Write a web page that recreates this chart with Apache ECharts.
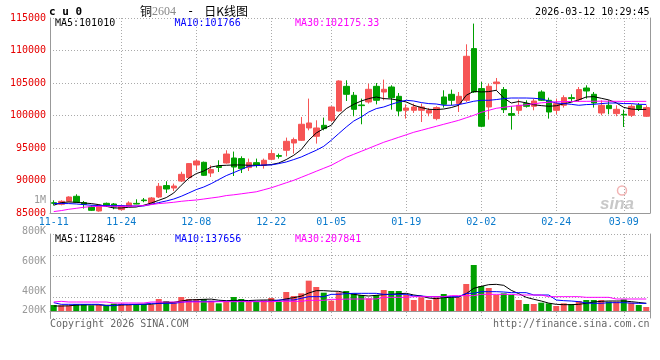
<!DOCTYPE html>
<html><head><meta charset="utf-8">
<script src="https://cdn.jsdelivr.net/npm/echarts@6/dist/echarts.min.js"></script>
<style>html,body{margin:0;padding:0;background:#fff;}#c{width:660px;height:360px;}</style>
</head><body><div id="c"></div>
<script>
// ---------- data ----------
const dates = ['2025-11-11','2025-11-12','2025-11-13','2025-11-14','2025-11-17','2025-11-18','2025-11-19','2025-11-20','2025-11-21','2025-11-24',
'2025-11-25','2025-11-26','2025-11-27','2025-11-28','2025-12-01','2025-12-02','2025-12-03','2025-12-04','2025-12-05','2025-12-08',
'2025-12-09','2025-12-10','2025-12-11','2025-12-12','2025-12-15','2025-12-16','2025-12-17','2025-12-18','2025-12-19','2025-12-22',
'2025-12-23','2025-12-24','2025-12-25','2025-12-26','2025-12-29','2025-12-30','2025-12-31','2026-01-05','2026-01-06','2026-01-07',
'2026-01-08','2026-01-09','2026-01-12','2026-01-13','2026-01-14','2026-01-15','2026-01-16','2026-01-19','2026-01-20','2026-01-21',
'2026-01-22','2026-01-23','2026-01-26','2026-01-27','2026-01-28','2026-01-29','2026-01-30','2026-02-02','2026-02-03','2026-02-04',
'2026-02-05','2026-02-06','2026-02-09','2026-02-10','2026-02-11','2026-02-12','2026-02-13','2026-02-24','2026-02-25','2026-02-26',
'2026-02-27','2026-03-02','2026-03-03','2026-03-04','2026-03-05','2026-03-06','2026-03-09','2026-03-10','2026-03-11','2026-03-12'];
const tickLabels = ['11-11','11-24','12-08','12-22','01-05','01-19','02-02','02-24','03-09'];

const openP = [86580,86340,86800,87570,86600,85920,85310,86490,86385,85520,
86030,86480,87000,86540,87460,89215,88850,89920,90440,92385,
92800,91150,92200,92690,93460,93370,91985,92750,92340,93260,
93830,94650,95770,96185,98080,96800,98490,99260,100690,104490,
103110,101620,102080,104490,103615,104385,102950,100800,100800,100800,
100385,99520,102850,103260,101830,102340,110290,104140,101310,104900,
103985,100290,100800,101830,101415,103615,102340,100800,101570,102750,
102450,104230,103260,100385,101570,100290,100180,100030,101570,99880];
const closeP = [86500,86800,87460,86650,86340,85415,86180,86080,85920,86080,
86540,86380,86900,87310,89110,88690,89150,90950,92600,93000,
90800,91675,92000,94070,92075,91830,92750,92340,93110,94140,
93720,96030,96290,98650,98850,98080,97985,101310,105310,103260,
100950,101520,104030,102340,104030,102750,100690,101150,101310,101310,
100800,101215,101720,102340,102950,109110,103615,98340,104490,105150,
100900,100030,101570,101415,102230,102340,100540,101830,102750,102600,
103985,103770,101920,101570,101060,100950,100080,101415,101060,101215];
const lowP = [86180,86180,86650,86540,85680,85310,85200,85920,85570,85400,
85920,86340,86650,86390,87310,88080,88385,89770,90290,91570,
90690,90540,91310,92600,90690,91150,91460,91985,91830,93110,
93370,93720,94140,96080,97720,95680,97720,99000,100600,102230,
99880,98650,101830,101720,102340,100900,99880,99520,100400,99000,
99880,99260,101215,101570,100540,102080,103460,98200,99370,103880,
100385,97830,100185,101215,100800,102230,99520,100185,101215,102080,
102080,102600,101215,100030,100185,99880,98230,99770,100690,99770];
const highP = [86950,86950,87570,87880,86850,86180,86300,86600,86540,86180,
86800,87110,87310,87460,89615,89880,89520,91350,92690,93215,
92910,92340,93110,94650,94450,93720,93370,93370,93370,94750,
94140,96600,96600,99770,102600,99260,99680,101420,105415,105415,
103615,102600,104900,105000,105520,104650,103460,101720,101830,101830,
101150,101415,103880,103985,103615,110950,114140,105150,104900,105770,
104385,101415,102450,102340,102600,103880,102750,102600,103110,103260,
104385,104650,103615,102340,102340,101570,100900,101720,101920,101570];

const ma5 = [86190,86600,86690,86650,86540,86450,86290,86030,85770,85770,
85880,85920,86190,86540,86950,87370,88080,89260,90340,91060,
91460,92080,92290,92340,92390,92390,92340,92340,92340,92450,
92690,93220,93880,94750,96190,97310,97990,98490,100030,101060,
101720,102230,102600,102850,102600,102540,102340,102080,101570,101220,
100950,100910,101000,101220,101570,103110,103720,103620,103680,103880,
102700,101920,102150,101950,101650,101520,101420,101500,101800,102050,
102400,102850,102900,102650,102400,101950,101250,101000,100910,100950];
const ma10 = [86450,86450,86450,86390,86290,86190,86140,86140,86140,86140,
86080,86080,86080,86340,86600,86850,87150,87570,88080,88600,
89000,89520,90140,90750,91220,91700,92190,92290,92390,92390,
92600,92850,93220,93620,94140,94650,95260,96190,97220,98230,
99150,99770,100540,101060,101310,101720,102080,102340,102230,101990,
101830,101770,101570,101570,101680,101920,102190,102340,102340,102450,
102600,102690,102690,102690,102650,102540,102230,101920,101830,101720,
101570,101680,101720,101830,101920,101920,101830,101830,101720,101700];
const ma30 = [85220,85370,85570,85720,85880,85990,86030,86030,86030,86030,
86030,86080,86140,86290,86450,86540,86650,86800,86910,87000,
87150,87310,87460,87680,87800,87950,88110,88260,88570,88880,
89260,89650,90030,90490,90950,91420,91880,92340,92950,93570,
94030,94490,94950,95420,95880,96260,96650,97030,97420,97720,
98030,98340,98650,98950,99260,99650,100030,100490,100800,101110,
101260,101420,101520,101650,101800,101950,102030,102110,102140,102160,
102180,102180,102190,102200,102190,102180,102170,102170,102175,102175];

const volume = [90000,85000,80000,105000,105000,85000,90000,80000,110000,110000,
90000,105000,105000,95000,180000,150000,130000,210000,180000,180000,
180000,155000,115000,140000,210000,180000,140000,140000,160000,195000,
140000,285000,225000,265000,455000,360000,275000,155000,280000,300000,
265000,240000,190000,240000,315000,300000,300000,240000,165000,205000,
165000,205000,255000,205000,205000,405000,690000,375000,345000,240000,
265000,240000,165000,105000,105000,125000,115000,75000,115000,105000,
150000,165000,165000,165000,140000,140000,175000,125000,90000,60000];
const volMa5 = [75000,75000,78000,88000,92000,92000,93000,86000,86000,90000,
93000,99000,102000,101000,115000,125000,130000,150000,166000,170000,
175000,178000,162000,155000,158000,160000,157000,162000,165000,165000,
158000,182000,200000,222000,270000,305000,305000,298000,295000,270000,
250000,235000,225000,235000,245000,250000,260000,265000,240000,225000,
195000,185000,200000,205000,210000,260000,340000,370000,395000,400000,
385000,310000,260000,205000,176000,150000,118000,100000,95000,95000,
100000,115000,135000,145000,150000,150000,150000,140000,128000,115000];
const volMa10 = [125000,100000,100000,100000,100000,100000,100000,80000,80000,100000,
100000,100000,100000,115000,115000,115000,115000,130000,145000,145000,
145000,145000,145000,145000,145000,145000,145000,145000,145000,145000,
165000,165000,165000,190000,215000,215000,215000,250000,250000,260000,
265000,265000,265000,265000,250000,250000,250000,250000,225000,225000,
215000,215000,215000,215000,215000,265000,265000,290000,290000,290000,
285000,275000,275000,275000,240000,240000,240000,165000,155000,150000,
140000,120000,115000,115000,125000,125000,125000,118000,115000,115000];
const volMa30 = [135000,145000,135000,135000,135000,135000,135000,135000,120000,120000,
120000,120000,120000,135000,135000,135000,135000,135000,135000,135000,
135000,135000,140000,140000,140000,140000,140000,140000,140000,140000,
145000,145000,145000,145000,160000,160000,160000,175000,175000,178000,
180000,180000,180000,180000,205000,205000,205000,205000,215000,215000,
215000,215000,215000,230000,230000,230000,230000,250000,250000,250000,
250000,250000,240000,240000,240000,240000,215000,215000,215000,215000,
215000,205000,205000,205000,205000,180000,180000,180000,180000,180000];

const priceMaLabels = ['MA5:101010','MA10:101766','MA30:102175.33'];
const volMaLabels = ['MA5:112846','MA10:137656','MA30:207841'];
const volTickValues = [200000,400000,600000,800000];

// ---------- chart ----------
const RED = '#f65555', GREEN = '#00a000', GRIDC = '#aaaaaa', AXISC = '#999999';
const MONO = '"DejaVu Sans Mono", monospace';
const md = d => d.slice(5);
const showTick = i => tickLabels.indexOf(md(dates[i])) >= 0;
const showGrid = i => i > 0 && showTick(i);
const dotted = {color: GRIDC, width: 1, type: [1, 2]};

const candle = dates.map((d, i) => [openP[i], closeP[i], lowP[i], highP[i]]);
const volData = volume.map((v, i) => ({value: v, itemStyle: {color: closeP[i] >= openP[i] ? RED : GREEN}}));

function maLine(data, color, xi, yi) {
  return {type: 'line', data: data, xAxisIndex: xi, yAxisIndex: yi, symbol: 'none', showSymbol: false,
    lineStyle: {color: color, width: 1}, itemStyle: {color: color}, z: 5, silent: true};
}

const chart = echarts.init(document.getElementById('c'), null, {renderer: 'canvas', width: 660, height: 360});
const option = {
  animation: false,
  backgroundColor: '#fff',
  textStyle: {fontFamily: MONO},
  grid: [
    {left: 50, top: 18, width: 600, height: 195, containLabel: false, outerBoundsMode: 'none'},
    {left: 50, top: 234, width: 600, height: 84, containLabel: false, outerBoundsMode: 'none'},
    {left: 50, top: 231, width: 600, height: 90, containLabel: false, outerBoundsMode: 'none'}
  ],
  xAxis: [
    {type: 'category', gridIndex: 0, data: dates, boundaryGap: true,
     axisLine: {show: true, lineStyle: {color: AXISC, width: 1}}, axisTick: {show: false},
     axisLabel: {interval: (i) => showTick(i), formatter: v => md(v), color: '#0a7acc', fontFamily: MONO, fontSize: 10, margin: 4},
     splitLine: {show: true, interval: (i) => showGrid(i), alignWithLabel: true, lineStyle: dotted}},
    {type: 'category', gridIndex: 1, data: dates, boundaryGap: true,
     axisLine: {show: true, lineStyle: {color: AXISC, width: 1}}, axisTick: {show: false},
     axisLabel: {show: false},
     splitLine: {show: true, interval: (i) => showGrid(i), alignWithLabel: true, lineStyle: dotted}},
    {type: 'value', gridIndex: 2, show: false, min: 0, max: 1}
  ],
  yAxis: [
    {type: 'value', gridIndex: 0, min: 85000, max: 115000, interval: 5000, scale: true,
     axisLine: {show: true, lineStyle: {color: AXISC}}, axisTick: {show: false},
     axisLabel: {color: '#e60000', fontFamily: MONO, fontSize: 10, margin: 4, formatter: v => String(v)},
     splitLine: {show: true, lineStyle: dotted}},
    {type: 'value', gridIndex: 0, position: 'right', min: 0, max: 1,
     axisLine: {show: true, lineStyle: {color: AXISC}}, axisTick: {show: false}, axisLabel: {show: false}, splitLine: {show: false}},
    {type: 'value', gridIndex: 1, min: -105000, max: 1155000,
     axisLine: {show: true, lineStyle: {color: AXISC}}, axisTick: {show: false}, axisLabel: {show: false}, splitLine: {show: false}},
    {type: 'value', gridIndex: 1, position: 'right', min: 0, max: 4, interval: 1,
     axisLine: {show: true, lineStyle: {color: AXISC}}, axisTick: {show: false}, axisLabel: {show: false},
     splitLine: {show: true, lineStyle: dotted}},
    {type: 'value', gridIndex: 2, min: volTickValues[0], max: volTickValues[volTickValues.length - 1],
     interval: volTickValues[1] - volTickValues[0],
     axisLine: {show: false}, axisTick: {show: false}, splitLine: {show: false},
     axisLabel: {color: '#999', fontFamily: MONO, fontSize: 10, margin: 4,
       formatter: v => (v === volTickValues[0] ? '{s|' + (v / 1000) + 'K}' : (v / 1000) + 'K'),
       rich: {s: {color: '#999', fontFamily: MONO, fontSize: 10, padding: [0, 0, 21, 0]}}}}
  ],
  series: [
    {type: 'candlestick', xAxisIndex: 0, yAxisIndex: 0, data: candle, barWidth: 6, z: 3, silent: true,
     itemStyle: {color: RED, color0: GREEN, borderColor: RED, borderColor0: GREEN, borderWidth: 1}},
    maLine(ma5, '#000000', 0, 0),
    maLine(ma10, '#0000ff', 0, 0),
    maLine(ma30, '#ff00ff', 0, 0),
    {type: 'bar', xAxisIndex: 1, yAxisIndex: 2, data: volData, barWidth: 6, z: 3, silent: true},
    maLine(volMa5, '#000000', 1, 2),
    maLine(volMa10, '#0000ff', 1, 2),
    maLine(volMa30, '#ff00ff', 1, 2)
  ],
  graphic: [
    {type: 'text', x: 49, y: 12, style: {text: 'c u 0', font: 'bold 11px "DejaVu Sans Mono"', fill: '#000', verticalAlign: 'middle'}},
    {type: 'text', x: 140, y: 11.5, style: {text: '{a|铜}{b|2604}{c|-}{a|日K线图}', verticalAlign: 'middle',
      rich: {a: {fontFamily: '"Noto Sans CJK SC"', fontSize: 12, fill: '#000'},
             b: {fontFamily: '"Liberation Serif"', fontSize: 12, fill: '#888'},
             c: {fontFamily: '"DejaVu Sans Mono"', fontSize: 12, fill: '#000', padding: [0, 10, 0, 11]}}}},
    {type: 'text', x: 649.5, y: 12, style: {text: '2026-03-12 10:29:45', font: '10px "DejaVu Sans Mono"', fill: '#000', align: 'right', verticalAlign: 'middle'}},
    {type: 'text', x: 55, y: 23.5, style: {text: priceMaLabels[0], font: '10px "DejaVu Sans Mono"', fill: '#000', verticalAlign: 'middle'}},
    {type: 'text', x: 174.5, y: 23.5, style: {text: priceMaLabels[1], font: '10px "DejaVu Sans Mono"', fill: '#0000ff', verticalAlign: 'middle'}},
    {type: 'text', x: 295, y: 23.5, style: {text: priceMaLabels[2], font: '10px "DejaVu Sans Mono"', fill: '#ff00ff', verticalAlign: 'middle'}},
    {type: 'text', x: 55, y: 239, style: {text: volMaLabels[0], font: '10px "DejaVu Sans Mono"', fill: '#000', verticalAlign: 'middle'}},
    {type: 'text', x: 175, y: 239, style: {text: volMaLabels[1], font: '10px "DejaVu Sans Mono"', fill: '#0000ff', verticalAlign: 'middle'}},
    {type: 'text', x: 295, y: 239, style: {text: volMaLabels[2], font: '10px "DejaVu Sans Mono"', fill: '#ff00ff', verticalAlign: 'middle'}},
    {type: 'text', x: 46, y: 200.5, style: {text: '1M', font: '10px "DejaVu Sans Mono"', fill: '#999', align: 'right', verticalAlign: 'middle'}},
    {type: 'text', x: 50, y: 324, style: {text: 'Copyright 2026 SINA.COM', font: '10px "DejaVu Sans Mono"', fill: '#666', verticalAlign: 'middle'}},
    {type: 'text', x: 649.5, y: 324, style: {text: 'http://finance.sina.com.cn', font: '10px "DejaVu Sans Mono"', fill: '#666', align: 'right', verticalAlign: 'middle'}},
    {type: 'circle', shape: {cx: 622, cy: 190.5, r: 4.5}, style: {fill: 'none', stroke: '#f2b4b4', lineWidth: 1.5}},
    {type: 'text', x: 600, y: 204, style: {text: 'sina', font: 'italic bold 17px "Liberation Sans"', fill: '#c8c8c8', verticalAlign: 'middle'}}
  ]
};
chart.setOption(option);
</script>
</body></html>
